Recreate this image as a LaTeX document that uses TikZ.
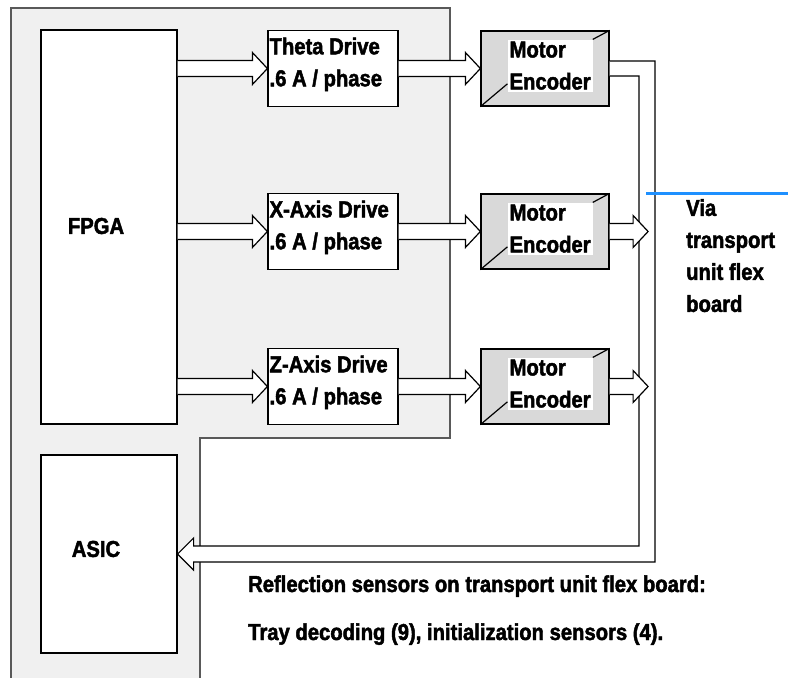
\documentclass[tikz,border=0pt]{standalone}
\usepackage{fontspec}
\setmainfont{Liberation Sans}[FakeStretch=0.88, BoldFeatures={FakeBold=2}]
\usepackage{xcolor}
\usetikzlibrary{positioning, calc}

\definecolor{panelgray}{RGB}{240,240,240}
\definecolor{encgray}{RGB}{217,217,217}
\definecolor{viablue}{RGB}{30,144,255}

% fat hollow arrow from #1 to the tip #2 (same height)
\newcommand{\busarrow}[2]{%
  \draw[bus] let \p1=(#1), \p2=(#2) in
    (\x1,\y1+8pt) -- (\x2-15pt,\y1+8pt) -- (\x2-15pt,\y1+16pt) -- (\x2,\y1)
    -- (\x2-15pt,\y1-16pt) -- (\x2-15pt,\y1-8pt) -- (\x1,\y1-8pt);}

\begin{document}
\begin{tikzpicture}[x=1pt, y=-1pt,
    font=\fontsize{23}{32}\selectfont\bfseries,
    box/.style={draw, fill=white, line width=1.2pt, inner sep=0pt},
    drivebox/.style={box, minimum width=130pt, minimum height=76pt},
    encbox/.style={draw, fill=encgray, line width=1.2pt, inner sep=0pt,
      minimum width=128pt, minimum height=75pt},
    txt/.style={inner sep=0pt, align=left},
    enctxt/.style={fill=white, inner sep=2pt, align=left, anchor=north west},
    bus/.style={draw=black, fill=white, line width=1.2pt},
    wire/.style={draw=black, line width=1.2pt}]
\useasboundingbox (0,0) rectangle (788,678);

% board
\fill[panelgray] (11,8) -- (450,8) -- (450,438) -- (200,438) -- (200,680) -- (11,680) -- cycle;
\draw[black!65, line width=1.2pt] (11,680) -- (11,8) -- (450,8) -- (450,438) -- (200,438) -- (200,680);

\node[box, minimum width=136pt, minimum height=394pt] (fpga) at (109,227) {};
\node[txt] (fpgatxt) at (96,226) {FPGA};
\node[box, minimum width=136pt, minimum height=198pt] (asic) at (109,554) {};
\node[txt] (asictxt) at (96,549) {ASIC};

% drives and motors
\foreach \r/\y/\lab in {theta/68.5/Theta Drive, xax/231.5/X-Axis Drive, zax/386.5/Z-Axis Drive} {
  \node[drivebox] (\r) at (333,\y) {};
  \node[txt, anchor=north west] (t\r) at ([shift={(2,7.5)}]\r.north west) {\lab\\.6 A / phase};
  \node[encbox] (enc\r) at (545,\y) {};
  \node[enctxt] (et\r) at ([shift={(27,9)}]enc\r.north west) {Motor\\Encoder};
  \draw[wire] (enc\r.north east) -- (et\r.north east);
  \draw[wire] (enc\r.south west) -- ([shift={(0,-8)}]et\r.south west);
  \busarrow{fpga.east |- \r.west}{\r.west}
  \busarrow{\r.east}{enc\r.west}
}

% return bus to the ASIC
\draw[bus] let \p1=(enctheta.east), \p2=(asic.east) in
  (\x1,\y1+7.5pt) -- (655pt,\y1+7.5pt) -- (655pt,\y2-8pt) -- (\x2+16pt,\y2-8pt)
  -- (\x2+16pt,\y2-16pt) -- (\x2,\y2) -- (\x2+16pt,\y2+16pt) -- (\x2+16pt,\y2+8pt)
  -- (639pt,\y2+8pt) -- (639pt,\y1-7.5pt) -- (\x1,\y1-7.5pt);

\foreach \r in {xax, zax} {
  \coordinate (tip\r) at ($(enc\r.east)+(38.5,0)$);
  \busarrow{enc\r.east}{tip\r}
}

% flex board
\coordinate (viastart) at (646,193.5);
\coordinate (viaend) at (788,193.5);
\draw[viablue, line width=2.5pt] (viastart) -- (viaend);
\node[txt, anchor=north west] (via) at (686,199) {Via\\transport\\unit flex\\board};

\node[txt, anchor=base west] (refl) at (248,592) {Reflection sensors on transport unit flex board:};
\node[txt, anchor=base west] (tray) at (248,640) {Tray decoding (9), initialization sensors (4).};
\end{tikzpicture}
\end{document}
